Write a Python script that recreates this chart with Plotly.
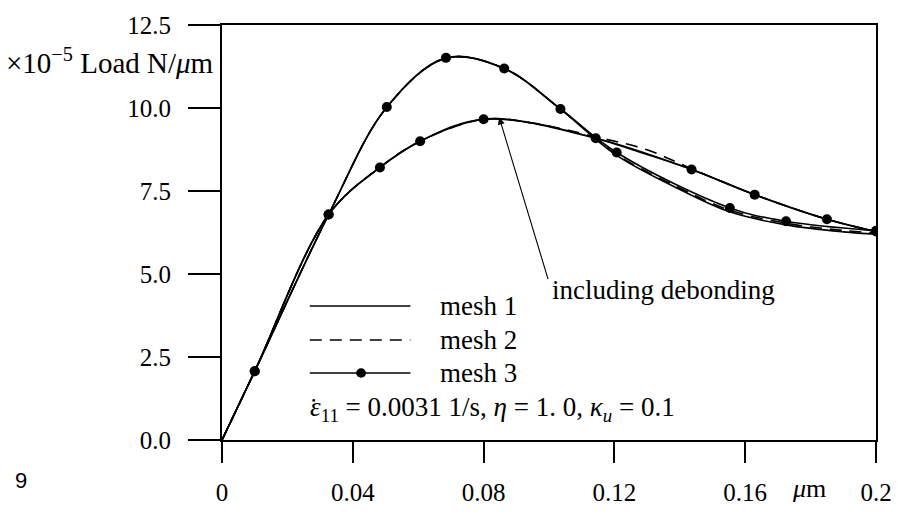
import plotly.graph_objects as go

# ---------------- data ----------------
# case without debonding (upper curve)
x_nd_m3 = [0, 0.01, 0.0326, 0.0504, 0.0685, 0.0863, 0.1035, 0.1207, 0.1553, 0.1725, 0.2]
y_nd_m3 = [0, 2.07, 6.79, 10.03, 11.51, 11.19, 9.97, 8.66, 6.99, 6.59, 6.30]
x_nd_m12 = [0, 0.01, 0.0326, 0.0504, 0.0685, 0.0863, 0.1035, 0.12, 0.1385, 0.155, 0.1725, 0.19, 0.2]
y_nd_m1 = [0, 2.07, 6.79, 10.02, 11.50, 11.19, 9.97, 8.62, 7.62, 6.88, 6.48, 6.27, 6.20]
y_nd_m2 = [0, 2.07, 6.79, 10.02, 11.50, 11.19, 9.97, 8.64, 7.66, 6.93, 6.53, 6.31, 6.24]

# case including debonding (lower curve)
x_d_m3 = [0, 0.01, 0.0326, 0.0483, 0.0606, 0.080, 0.1143, 0.1436, 0.1629, 0.185, 0.2]
y_d_m3 = [0, 2.07, 6.79, 8.21, 9.00, 9.66, 9.09, 8.15, 7.39, 6.65, 6.28]
x_d_m12 = [0, 0.01, 0.0326, 0.0483, 0.0606, 0.080, 0.095, 0.1143, 0.13, 0.1436, 0.1629, 0.185, 0.2]
y_d_m1 = [0, 2.07, 6.79, 8.21, 9.00, 9.66, 9.55, 9.09, 8.60, 8.15, 7.39, 6.65, 6.28]
y_d_m2 = [0, 2.07, 6.79, 8.21, 9.00, 9.66, 9.55, 9.13, 8.74, 8.17, 7.39, 6.65, 6.28]

x_tickvals = [0, 0.04, 0.08, 0.12, 0.16, 0.2]
x_ticktext = ["0", "0.04", "0.08", "0.12", "0.16", "0.2"]
y_tickvals = [0, 2.5, 5.0, 7.5, 10.0, 12.5]
y_ticktext = ["0.0", "2.5", "5.0", "7.5", "10.0", "12.5"]

legend_names = ["mesh 1", "mesh 2", "mesh 3"]

# ---------------- figure ----------------
W, H = 904, 518
L, R, T, B = 222, 19, 22, 56
PW, PH = W - L - R, H - T - B

def px(xp):
    return (xp - L) / PW

def py(yp):
    return (H - B - yp) / PH

SERIF = "Liberation Serif"
BLACK = "#000000"
LW = 1.6

fig = go.Figure()

def msizes(xs):
    return [0 if v == 0 else 10 for v in xs]

for xs, ys in [(x_nd_m12, y_nd_m1), (x_d_m12, y_d_m1)]:
    fig.add_trace(go.Scatter(x=xs, y=ys, mode="lines", showlegend=False,
                             line=dict(color=BLACK, width=LW, shape="spline")))
for xs, ys in [(x_nd_m12, y_nd_m2), (x_d_m12, y_d_m2)]:
    fig.add_trace(go.Scatter(x=xs, y=ys, mode="lines", showlegend=False,
                             line=dict(color=BLACK, width=LW, shape="spline", dash="12px,8px")))
for xs, ys in [(x_nd_m3, y_nd_m3), (x_d_m3, y_d_m3)]:
    fig.add_trace(go.Scatter(x=xs, y=ys, mode="lines+markers", showlegend=False,
                             line=dict(color=BLACK, width=LW, shape="spline"),
                             marker=dict(color=BLACK, size=msizes(xs), opacity=1,
                                         line=dict(width=0))))

# ---------------- manual legend ----------------
leg_y = [320, 356, 391]
for i, name in enumerate(legend_names):
    yy = py(leg_y[i])
    fig.add_shape(type="line", xref="paper", yref="paper",
                  x0=px(311), x1=px(413), y0=yy, y1=yy,
                  line=dict(color=BLACK, width=LW, dash="12px,8px" if i == 1 else "solid"))
    if i == 2:
        fig.add_shape(type="circle", xref="paper", yref="paper",
                      x0=px(363 - 5), x1=px(363 + 5), y0=py(leg_y[i] + 5), y1=py(leg_y[i] - 5),
                      fillcolor=BLACK, line=dict(color=BLACK, width=0))
    fig.add_annotation(xref="paper", yref="paper", x=px(441), y=yy, text=name,
                       showarrow=False, xanchor="left", yanchor="middle",
                       font=dict(family=SERIF, size=27, color=BLACK))

fig.add_annotation(xref="paper", yref="paper", x=px(309), y=py(429),
                   text="<i>ε</i><sub>11</sub> = 0.0031 1/s, <i>η</i> = 1. 0, <i>κ</i><sub><i>u</i></sub> = 0.1",
                   showarrow=False, xanchor="left", yanchor="middle",
                   font=dict(family=SERIF, size=27, color=BLACK))
# dot over epsilon (time derivative)
fig.add_shape(type="circle", xref="paper", yref="paper",
              x0=px(313.5), x1=px(316.5), y0=py(421.5), y1=py(418.5),
              fillcolor=BLACK, line=dict(color=BLACK, width=0))

# arrow + label
fig.add_annotation(x=(503 - L) / PW * 0.2, y=(H - B - 120) / PH * 12.5,
                   ax=(553 - L) / PW * 0.2, ay=(H - B - 293) / PH * 12.5,
                   xref="x", yref="y", axref="x", ayref="y", text="",
                   showarrow=True, arrowhead=2, arrowsize=1.3, arrowwidth=1.1, arrowcolor=BLACK)
fig.add_annotation(xref="paper", yref="paper", x=px(555), y=py(303),
                   text="including debonding", showarrow=False, xanchor="left", yanchor="middle",
                   font=dict(family=SERIF, size=27, color=BLACK))

# axis title annotations
fig.add_annotation(xref="paper", yref="paper", x=px(216), y=py(60),
                   text="×10<sup>−5</sup> Load N/<i>μ</i>m", showarrow=False,
                   xanchor="right", yanchor="middle",
                   font=dict(family=SERIF, size=29, color=BLACK))
fig.add_annotation(xref="paper", yref="paper", x=px(817), y=py(513),
                   text="<i>μ</i>m", showarrow=False, xanchor="center", yanchor="middle",
                   font=dict(family=SERIF, size=26, color=BLACK))
fig.add_annotation(xref="paper", yref="paper", x=px(18), y=py(505),
                   text="9", showarrow=False, xanchor="center", yanchor="middle",
                   font=dict(family="Liberation Sans", size=22, color=BLACK))

fig.update_xaxes(range=[0, 0.2], tickvals=x_tickvals, ticktext=x_ticktext,
                 showgrid=False, zeroline=False, showline=True, mirror=True,
                 linecolor=BLACK, linewidth=2, ticks="outside", ticklen=21, tickwidth=2,
                 tickcolor=BLACK, ticklabelstandoff=8,
                 tickfont=dict(family=SERIF, size=25, color=BLACK))
fig.update_yaxes(range=[0, 12.5], tickvals=y_tickvals, ticktext=y_ticktext,
                 showgrid=False, zeroline=False, showline=True, mirror=True,
                 linecolor=BLACK, linewidth=2, ticks="outside", ticklen=32, tickwidth=2,
                 tickcolor=BLACK, ticklabelstandoff=12,
                 tickfont=dict(family=SERIF, size=25, color=BLACK))

fig.update_layout(width=W, height=H, margin=dict(l=L, r=R, t=T, b=B),
                  paper_bgcolor="white", plot_bgcolor="white", showlegend=False)

fig.write_html("out.html")
